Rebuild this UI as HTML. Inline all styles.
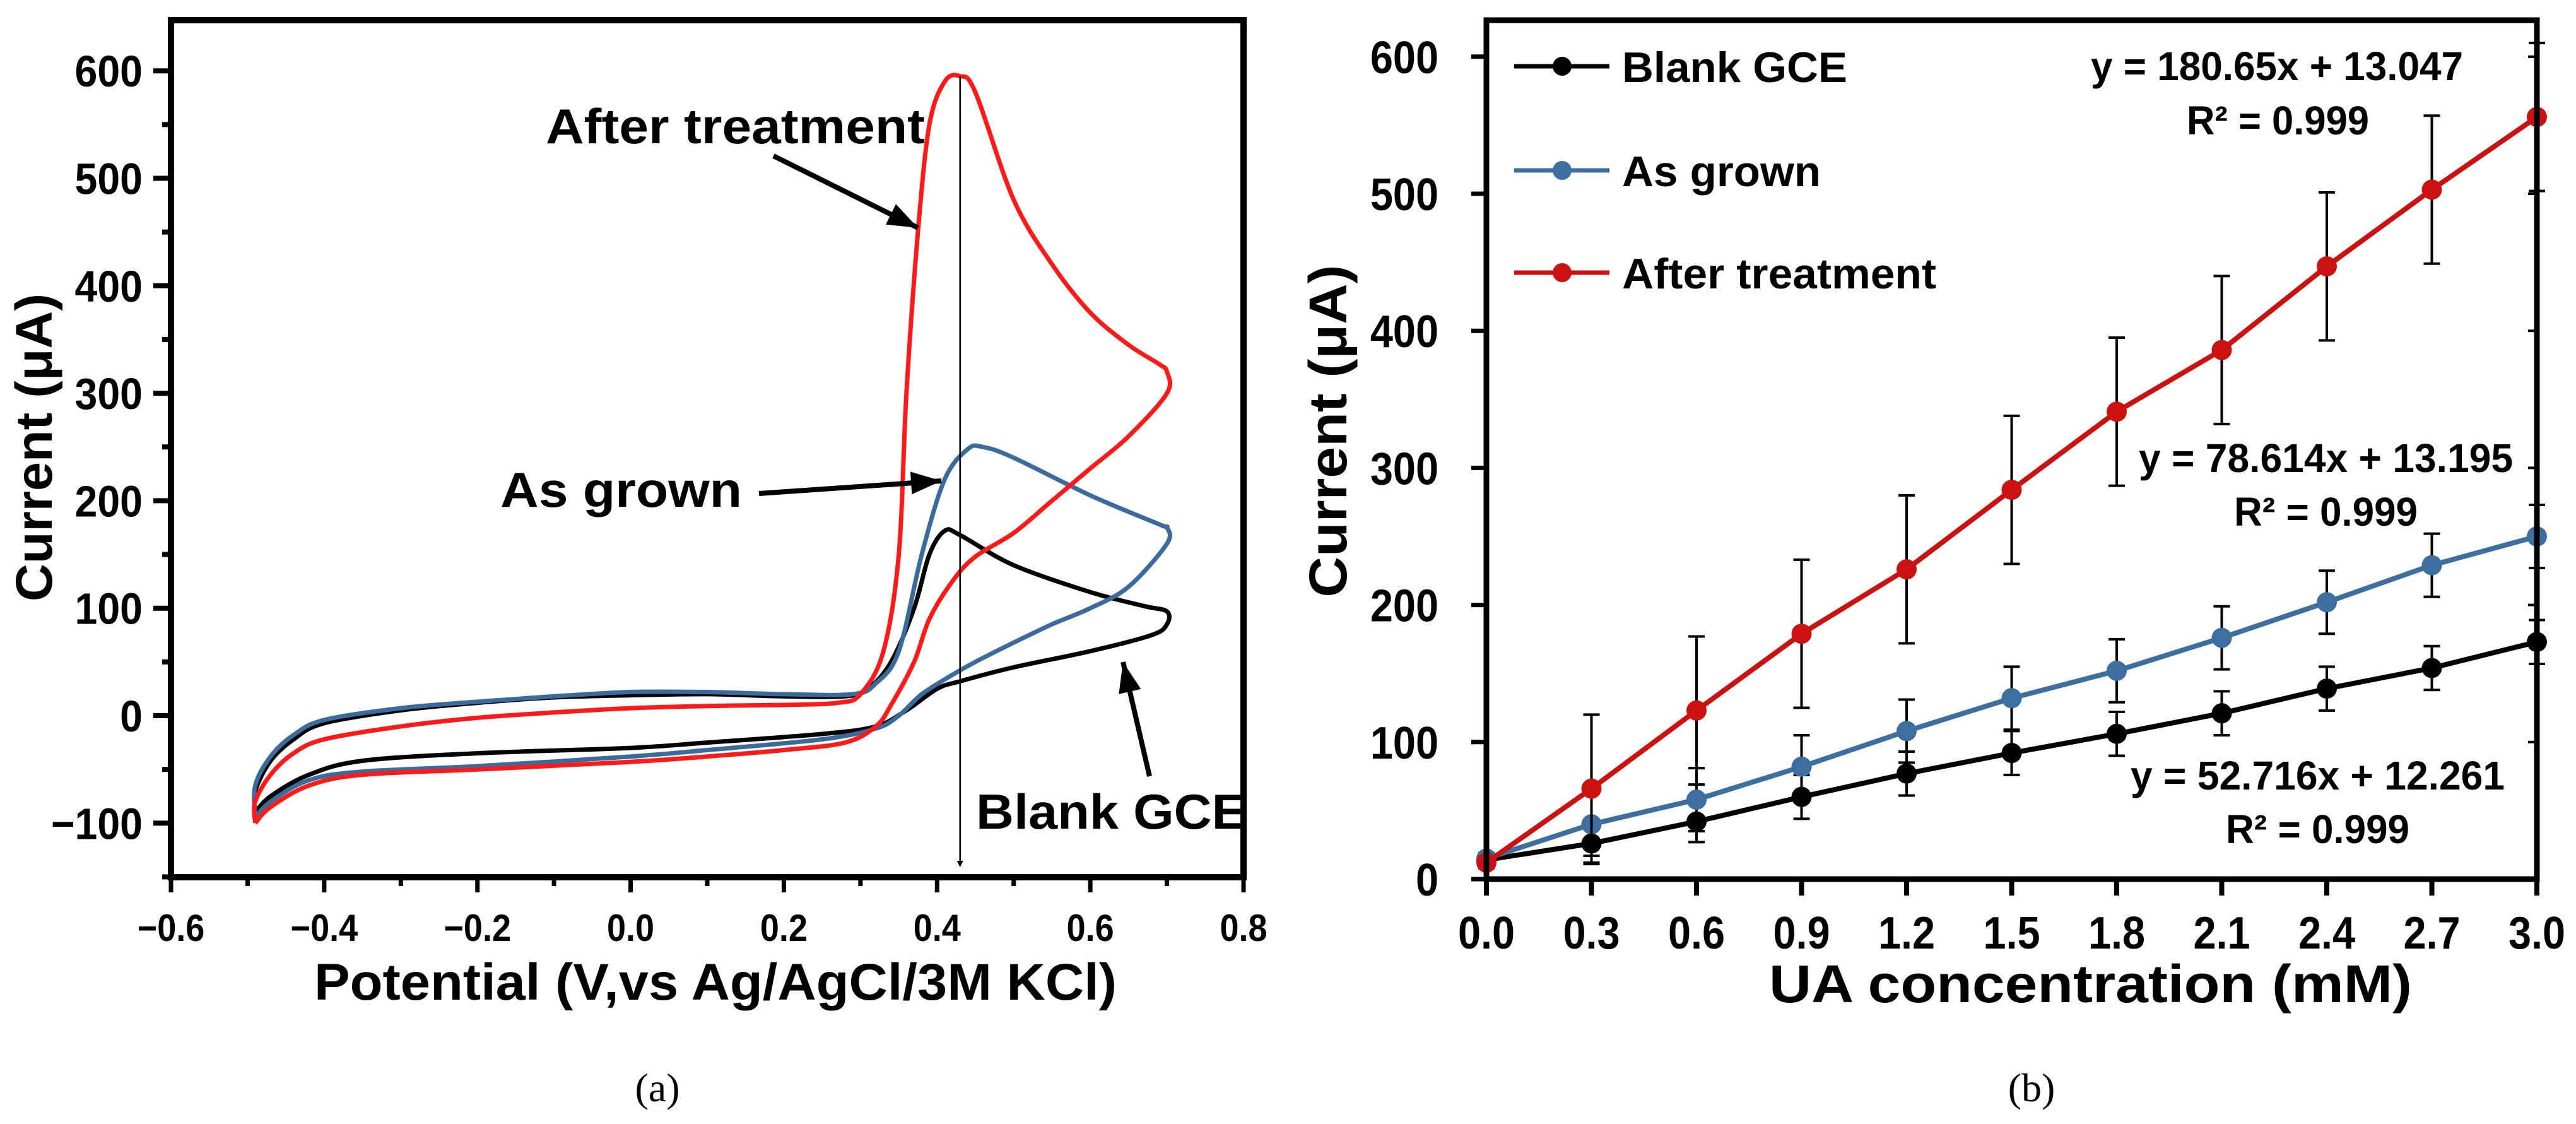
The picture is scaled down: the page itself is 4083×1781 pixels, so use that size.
<!DOCTYPE html>
<html><head><meta charset="utf-8"><style>
html,body{margin:0;padding:0;background:#fff}
svg{display:block}
text{font-family:"Liberation Sans",sans-serif;font-weight:bold;fill:#000}
</style></head><body>
<svg id="s" width="4083" height="1781" viewBox="0 0 4083 1781" xmlns="http://www.w3.org/2000/svg">
<defs>
<marker id="ah" markerWidth="10" markerHeight="10" refX="8" refY="5" orient="auto" markerUnits="userSpaceOnUse" viewBox="0 0 10 10"><path d="M0,0 L10,5 L0,10 z" fill="#000"/></marker>
</defs>
<g id="pa"></g>
<g id="pb"></g>
</svg>
<script>
// ---------- Panel (a) data: CV curves [potential V, current µA] ----------
const cvBlank = [[-0.49,-90],[-0.49,-70],[-0.47,-42],[-0.44,-22],[-0.4,-7],[-0.3,5],[-0.2,12],[-0.1,17],[0,19],[0.1,20],[0.2,18],[0.28,18],[0.31,25],[0.34,50],[0.37,100],[0.39,150],[0.41,172],[0.43,168],[0.5,140],[0.6,115],[0.67,102],[0.7,97],[0.7,85],[0.68,75],[0.6,60],[0.5,45],[0.43,32],[0.4,25],[0.36,5],[0.32,-10],[0.25,-17],[0.1,-25],[0,-30],[-0.2,-35],[-0.35,-42],[-0.42,-55],[-0.47,-75],[-0.49,-90]];
const cvGrown = [[-0.49,-95],[-0.49,-65],[-0.47,-38],[-0.44,-18],[-0.4,-4],[-0.3,7],[-0.2,13],[-0.1,18],[0,22],[0.1,22],[0.2,20],[0.29,20],[0.32,30],[0.35,60],[0.38,150],[0.41,220],[0.44,248],[0.46,250],[0.5,240],[0.6,205],[0.69,178],[0.7,175],[0.7,160],[0.65,120],[0.6,100],[0.55,85],[0.5,68],[0.45,50],[0.42,38],[0.38,20],[0.35,0],[0.32,-12],[0.25,-22],[0.1,-32],[0,-38],[-0.2,-47],[-0.35,-52],[-0.42,-60],[-0.47,-80],[-0.49,-95]];
const cvAfter = [[-0.49,-100],[-0.49,-80],[-0.47,-55],[-0.44,-35],[-0.4,-22],[-0.3,-10],[-0.2,-2],[-0.1,3],[0,7],[0.1,9],[0.2,10],[0.27,12],[0.3,20],[0.33,60],[0.35,150],[0.36,300],[0.375,450],[0.39,550],[0.41,590],[0.43,595],[0.45,580],[0.5,480],[0.55,420],[0.6,375],[0.65,345],[0.69,327],[0.7,320],[0.7,300],[0.65,260],[0.6,230],[0.55,200],[0.5,170],[0.45,148],[0.42,125],[0.39,90],[0.37,50],[0.34,10],[0.32,-10],[0.28,-25],[0.2,-32],[0.1,-38],[0,-43],[-0.2,-50],[-0.35,-55],[-0.42,-65],[-0.47,-85],[-0.49,-100]];
const aXTicks = [-0.6,-0.4,-0.2,0.0,0.2,0.4,0.6,0.8];
const aXLabels = ["\u22120.6","\u22120.4","\u22120.2","0.0","0.2","0.4","0.6","0.8"];
const aYTicks = [-100,0,100,200,300,400,500,600];
const aYLabels = ["\u2212100","0","100","200","300","400","500","600"];

// ---------- Panel (b) data ----------
const conc = [0,0.3,0.6,0.9,1.2,1.5,1.8,2.1,2.4,2.7,3.0];
const blankVals = [14,26,42,60,77,92,106,121,139,154,173];
const blankErr = [4,15,15,16,16,16,16,16,16,16,16];
const grownVals = [15,40,58,82,108,132,152,176,202,229,250];
const grownErr = [4,23,23,23,23,23,23,23,23,23,23];
const afterVals = [12,66,123,179,226,284,341,386,447,503,556];
const afterErr = [4,54,54,54,54,54,54,54,54,54,54];
const bXLabels = ["0.0","0.3","0.6","0.9","1.2","1.5","1.8","2.1","2.4","2.7","3.0"];
const bYTicks = [0,100,200,300,400,500,600];

const NS="http://www.w3.org/2000/svg";
function mk(parent,tag,attrs,txt){const e=document.createElementNS(NS,tag);for(const k in attrs)e.setAttribute(k,attrs[k]);if(txt!==undefined)e.textContent=txt;parent.appendChild(e);return e;}

// ===== Panel a =====
const pa=document.getElementById('pa');
const aL=271,aR=1971,aT=32,aB=1390;
const ax=v=>aL+(v+0.6)/1.4*(aR-aL);
const ay=v=>1134-v*1.703;
function smooth(P){
  let d='M'+P[0][0].toFixed(1)+','+P[0][1].toFixed(1);
  for(let i=0;i<P.length-1;i++){
    const p0=P[Math.max(i-1,0)],p1=P[i],p2=P[i+1],p3=P[Math.min(i+2,P.length-1)];
    const c1=[p1[0]+(p2[0]-p0[0])/6,p1[1]+(p2[1]-p0[1])/6];
    const c2=[p2[0]-(p3[0]-p1[0])/6,p2[1]-(p3[1]-p1[1])/6];
    d+=` C${c1[0].toFixed(1)},${c1[1].toFixed(1)} ${c2[0].toFixed(1)},${c2[1].toFixed(1)} ${p2[0].toFixed(1)},${p2[1].toFixed(1)}`;
  }
  return d;
}
function cvPath(pts,color,name){
  const P=pts.map(p=>[ax(p[0]),ay(p[1])]);
  const p=mk(pa,'path',{d:smooth(P),fill:'none',stroke:color,'stroke-width':7,'stroke-linejoin':'round'});
  
  
}
cvPath(cvBlank,'#000','cv-blank-gce');
cvPath(cvGrown,'#3a6b9c','cv-as-grown');
cvPath(cvAfter,'#ff1a1a','cv-after-treatment');
const fa=mk(pa,'rect',{x:aL,y:aT,width:aR-aL,height:aB-aT,fill:'none',stroke:'#000','stroke-width':10});


for(let k=0;k<=14;k++){const v=-0.6+k*0.1;const X=ax(v);const maj=k%2===0;mk(pa,'line',{x1:X,y1:aB,x2:X,y2:aB+(maj?24:14),stroke:'#000','stroke-width':7});}
for(let v=-150;v<=650;v+=50){const Y=ay(v);if(Y<aT||Y>aB)continue;const maj=v%100===0;mk(pa,'line',{x1:aL,y1:Y,x2:aL-(maj?28:14),y2:Y,stroke:'#000','stroke-width':8});}
aXTicks.forEach((v,i)=>{const X=ax(v);const t=mk(pa,'text',{x:X,y:1491,'font-size':60,'text-anchor':'middle',transform:`translate(${X},0) scale(0.9,1) translate(${-X},0)`},aXLabels[i]);

});
aYTicks.forEach((v,i)=>{const t=mk(pa,'text',{x:226,y:ay(v)+25,'font-size':70,'text-anchor':'end',transform:`translate(226,0) scale(0.92,1) translate(-226,0)`},aYLabels[i]);

});
let t;
t=mk(pa,'text',{x:498,y:1584,'font-size':82,textLength:1272,lengthAdjust:'spacingAndGlyphs'},'Potential (V,vs Ag/AgCl/3M KCl)');

t=mk(pa,'text',{x:0,y:0,'font-size':82,'text-anchor':'middle',textLength:488,lengthAdjust:'spacingAndGlyphs',transform:'translate(82,709) rotate(-90)'},'Current (\u03bcA)');

t=mk(pa,'text',{x:865,y:227,'font-size':78,textLength:601,lengthAdjust:'spacingAndGlyphs'},'After treatment');

t=mk(pa,'text',{x:793,y:803,'font-size':78,textLength:383,lengthAdjust:'spacingAndGlyphs'},'As grown');

t=mk(pa,'text',{x:1547,y:1313,'font-size':78,textLength:429,lengthAdjust:'spacingAndGlyphs'},'Blank GCE');

[[1226,247,1455,361,'arrow-after-treatment'],[1203,782,1492,762,'arrow-as-grown'],[1822,1230,1780,1049,'arrow-blank-gce']].forEach(a=>{
 const l=mk(pa,'line',{x1:a[0],y1:a[1],x2:a[2],y2:a[3],stroke:'#000','stroke-width':8});
 
 const ang=Math.atan2(a[3]-a[1],a[2]-a[0]);const L=48,W=18;
 const bx=a[2]-L*Math.cos(ang),by=a[3]-L*Math.sin(ang);
 mk(pa,'polygon',{points:`${a[2]},${a[3]} ${bx-W*Math.sin(ang)},${by+W*Math.cos(ang)} ${bx+W*Math.sin(ang)},${by-W*Math.cos(ang)}`,fill:'#000'});
});
const vl=mk(pa,'line',{x1:ax(0.43),y1:ay(595),x2:ax(0.43),y2:1372,stroke:'#000','stroke-width':2.5,'marker-end':'url(#ah)'});

t=mk(pa,'text',{x:1042,y:1745,'font-size':64,'text-anchor':'middle',style:'font-family:"Liberation Serif",serif;font-weight:normal'},'(a)');


// ===== Panel b =====
const pb=document.getElementById('pb');
const bL=2356,bR=4021,bT=32,bB=1393;
const bx=v=>bL+v/3*(bR-bL);
const by=v=>bB-v*2.172;
function series(vals,errs,color,name){
  vals.forEach((v,i)=>{const X=bx(conc[i]);
    const e=mk(pb,'line',{x1:X,y1:by(v-errs[i]),x2:X,y2:by(v+errs[i]),stroke:'#000','stroke-width':4});
    
    mk(pb,'line',{x1:X-13,y1:by(v+errs[i]),x2:X+13,y2:by(v+errs[i]),stroke:'#000','stroke-width':4});
    mk(pb,'line',{x1:X-13,y1:by(v-errs[i]),x2:X+13,y2:by(v-errs[i]),stroke:'#000','stroke-width':4});
  });
  const d=vals.map((v,i)=>(i?'L':'M')+bx(conc[i]).toFixed(1)+','+by(v).toFixed(1)).join(' ');
  const p=mk(pb,'path',{d:d,fill:'none',stroke:color,'stroke-width':8});
  
  vals.forEach((v,i)=>{const c=mk(pb,'circle',{cx:bx(conc[i]),cy:by(v),r:16,fill:color});
    });
}
series(blankVals,blankErr,'#000','blank-gce');
series(grownVals,grownErr,'#3c6fa0','as-grown');
series(afterVals,afterErr,'#cc1111','after-treatment');
const fb=mk(pb,'rect',{x:bL,y:bT,width:bR-bL,height:bB-bT,fill:'none',stroke:'#000','stroke-width':9});

conc.forEach((v,i)=>{const X=bx(v);mk(pb,'line',{x1:X,y1:bB,x2:X,y2:bB+26,stroke:'#000','stroke-width':8});
 const t=mk(pb,'text',{x:X,y:1503,'font-size':72,'text-anchor':'middle',transform:`translate(${X},0) scale(0.9,1) translate(${-X},0)`},bXLabels[i]);
 });
bYTicks.forEach(v=>{const Y=by(v);mk(pb,'line',{x1:bL,y1:Y,x2:bL-24,y2:Y,stroke:'#000','stroke-width':7});
 mk(pb,'line',{x1:bR,y1:Y,x2:bR-14,y2:Y,stroke:'#000','stroke-width':4});
 const t=mk(pb,'text',{x:2280,y:Y+26,'font-size':72,'text-anchor':'end',transform:'translate(2280,0) scale(0.9,1) translate(-2280,0)'},String(v));
 });
t=mk(pb,'text',{x:2804,y:1588,'font-size':84,textLength:1019,lengthAdjust:'spacingAndGlyphs'},'UA concentration (mM)');

t=mk(pb,'text',{x:0,y:0,'font-size':84,'text-anchor':'middle',textLength:527,lengthAdjust:'spacingAndGlyphs',transform:'translate(2134,683) rotate(-90)'},'Current (\u03bcA)');

[['Blank GCE','#000',105,357,'legend-blank-gce'],['As grown','#3c6fa0',270,315,'legend-as-grown'],['After treatment','#cc1111',432,498,'legend-after-treatment']].forEach(l=>{
 const g=mk(pb,'g',{});
 mk(g,'line',{x1:2400,y1:l[2],x2:2551,y2:l[2],stroke:l[1],'stroke-width':7});
 mk(g,'circle',{cx:2476,cy:l[2],r:15,fill:l[1]});
 mk(g,'text',{x:2571,y:l[2]+25,'font-size':68,textLength:l[3],lengthAdjust:'spacingAndGlyphs'},l[0]);
});
[['y = 180.65x + 13.047',3314,127,590],['R\u00b2 = 0.999',3466,213,289],['y = 78.614x + 13.195',3390,748,593],['R\u00b2 = 0.999',3541,833,291],['y = 52.716x + 12.261',3377,1251,593],['R\u00b2 = 0.999',3528,1336,291]].forEach(e=>{
 const t=mk(pb,'text',{x:e[1],y:e[2],'font-size':64,textLength:e[3],lengthAdjust:'spacingAndGlyphs'},e[0]);
 
});
t=mk(pb,'text',{x:3220,y:1745,'font-size':64,'text-anchor':'middle',style:'font-family:"Liberation Serif",serif;font-weight:normal'},'(b)');

</script>
</body></html>
